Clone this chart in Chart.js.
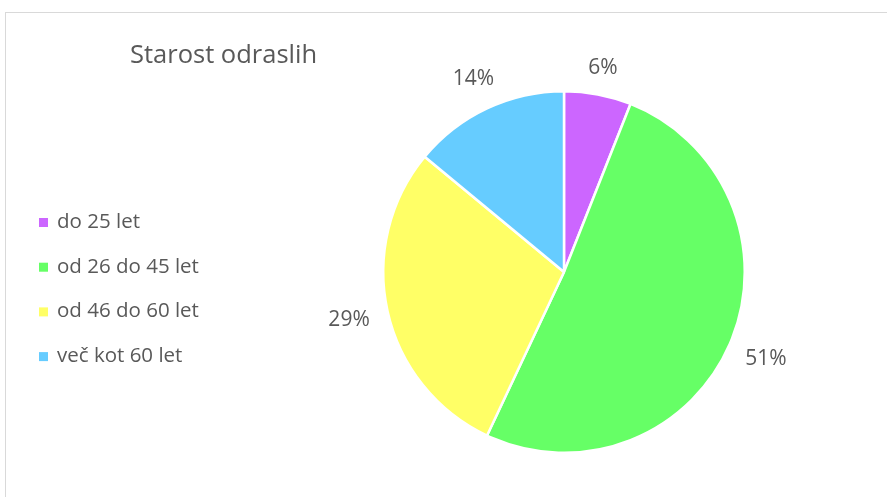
<!DOCTYPE html>
<html>
<head>
<meta charset="utf-8">
<script src="https://cdn.jsdelivr.net/npm/chart.js@4"></script>
<style>
  html, body { margin: 0; padding: 0; background: #fff; overflow: hidden; }
  .wrap { position: relative; width: 887px; height: 497px; }
  .frame { position: absolute; left: 5px; top: 12px; width: 900px; height: 500px; border: 1px solid #d9d9d9; box-sizing: border-box; }
  canvas { position: absolute; left: 0; top: 0; }
</style>
</head>
<body>
<div class="wrap">
  <div class="frame"></div>
  <canvas id="chartPie" width="887" height="497"></canvas>
</div>
<script>
// Starost odraslih - tortni graf
const chartTitle = 'Starost odraslih';
const categories = ['do 25 let', 'od 26 do 45 let', 'od 46 do 60 let', 'več kot 60 let'];
const shares = [6, 51, 29, 14];
const sliceColors = ['#cc66ff', '#66ff66', '#ffff66', '#66ccff'];

const FONT = '"Open Sans", sans-serif';
const TEXT = '#595959';

// naslov, legenda in odstotki ob rezinah
const extras = {
  id: 'extras',
  afterDraw(chart) {
    const ctx = chart.ctx;
    ctx.save();
    ctx.fillStyle = TEXT;
    ctx.textBaseline = 'middle';

    ctx.font = '25.5px ' + FONT;
    ctx.textAlign = 'left';
    ctx.fillText(chartTitle, 130, 56);

    ctx.font = '20.5px ' + FONT;
    categories.forEach((c, i) => {
      const y = 222 + i * 44.7;
      ctx.fillStyle = sliceColors[i];
      ctx.fillRect(39, y - 4, 9, 9);
      ctx.fillStyle = TEXT;
      ctx.fillText(c, 57, y);
    });

    // odstotki zunaj rezin
    ctx.font = '21px ' + FONT;
    const meta = chart.getDatasetMeta(0);
    const total = shares.reduce((s, v) => s + v, 0);
    ctx.textAlign = 'center';
    meta.data.forEach((arc, i) => {
      const p = arc.getProps(['x', 'y', 'startAngle', 'endAngle', 'outerRadius'], true);
      const mid = (p.startAngle + p.endAngle) / 2;
      const label = Math.round(shares[i] / total * 100) + '%';
      const w = ctx.measureText(label).width;
      const h = 12;
      const cx = Math.cos(mid), cy = Math.sin(mid);
      const d = p.outerRadius + 18 + Math.abs(cx) * w / 2 + Math.abs(cy) * h / 2;
      ctx.fillText(label, p.x + cx * d, p.y + cy * d);
    });
    ctx.restore();
  }
};

new Chart(document.getElementById('chartPie'), {
  type: 'pie',
  data: {
    labels: categories,
    datasets: [{
      data: shares,
      backgroundColor: sliceColors,
      borderColor: '#ffffff',
      borderWidth: 2.5,
      hoverOffset: 0
    }]
  },
  options: {
    responsive: false,
    animation: false,
    layout: { padding: { left: 382, right: 141, top: 90, bottom: 43 } },
    plugins: {
      legend: { display: false },
      tooltip: { enabled: false },
      title: { display: false }
    }
  },
  plugins: [extras]
});
</script>
</body>
</html>
